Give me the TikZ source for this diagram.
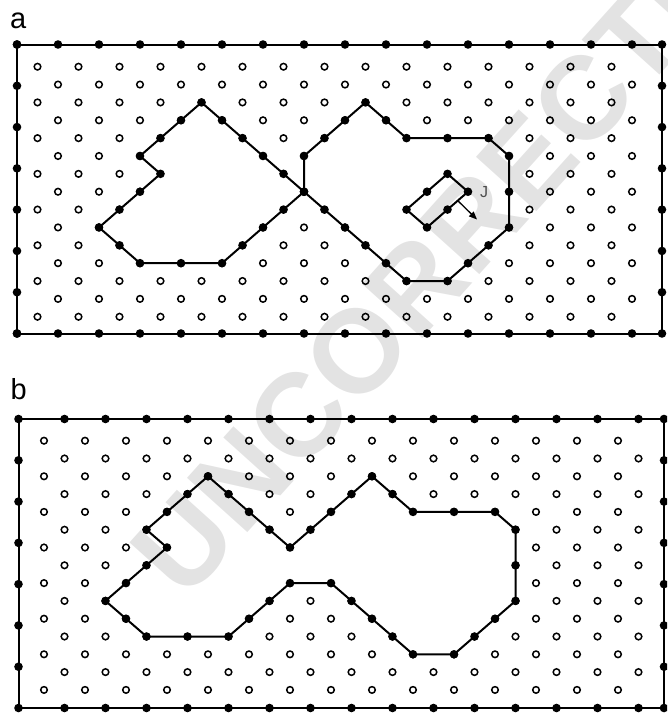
\documentclass[tikz,border=0pt]{standalone}
\usepackage{fontspec}
\setmainfont{Liberation Sans}
\usetikzlibrary{arrows.meta,calc}
\begin{document}
\begin{tikzpicture}[x=1pt,y=-1pt,
  edge/.style={line width=2pt, line join=round},
  vdot/.style={fill=black},
  site/.style={draw=black, line width=1.5pt},
  lbl/.style={inner sep=0pt, anchor=base west, font=\fontsize{29}{29}\selectfont},
  wmark/.style={inner sep=0pt, text=black!11, font=\fontsize{118}{118}\selectfont\bfseries},
]
\useasboundingbox (0,0) rectangle (667,715);
\clip (0,0) rectangle (667,715);

% watermark
\node[wmark, rotate=48] (wm) at (462,234) {UNCORRECTED};

% ---------------- panel a ----------------
\foreach \m/\j [count=\i] in {9/2,8/3,7/4,6/5,7/6,6/7,5/8,4/9,5/10,6/11,8/11,10/11,11/10,12/9,13/8,14/7,13/6,12/5,11/4,10/3}
  \coordinate (aL\i) at ({17+20.5*\m},{66.7+17.86*\j});
\foreach \m/\j [count=\i] in {14/7,14/5,15/4,16/3,17/2,18/3,19/4,21/4,23/4,24/5,24/7,24/9,23/10,22/11,21/12,19/12,18/11,17/10,16/9,15/8}
  \coordinate (aR\i) at ({17+20.5*\m},{66.7+17.86*\j});
\foreach \m/\j [count=\i] in {21/6,22/7,21/8,20/9,19/8,20/7}
  \coordinate (aJ\i) at ({17+20.5*\m},{66.7+17.86*\j});

\begin{scope}[even odd rule]
  \clip (-10,-10) rectangle (680,730)
    (aL1) \foreach \i in {2,...,20}{ -- (aL\i)} -- cycle
    (aR1) \foreach \i in {2,...,20}{ -- (aR\i)} -- cycle;
  \foreach \j in {0,2,...,14} \foreach \m in {1,3,...,29}
    \draw[site] ({17+20.5*\m},{66.7+17.86*\j}) circle (3.3pt);
  \foreach \j in {1,3,...,13} \foreach \m in {2,4,...,30}
    \draw[site] ({17+20.5*\m},{66.7+17.86*\j}) circle (3.3pt);
\end{scope}

\coordinate (aNW) at (17,44.5);
\coordinate (aSE) at (662,333.5);
\draw[edge] (aNW) rectangle (aSE);
\foreach \k in {0,...,15} {
  \fill[vdot] ({17+41*\k},44.5) circle (4.3pt);
  \fill[vdot] ({17+41*\k},333.5) circle (4.3pt);
}
\foreach \k in {0,...,7} {
  \fill[vdot] (17,{44.5+41.286*\k}) circle (4.3pt);
  \fill[vdot] (662,{44.5+41.286*\k}) circle (4.3pt);
}

\draw[edge] (aL1) \foreach \i in {2,...,20}{ -- (aL\i)} -- cycle;
\draw[edge] (aR1) \foreach \i in {2,...,20}{ -- (aR\i)} -- cycle;
\draw[edge] (aJ1) \foreach \i in {2,...,6}{ -- (aJ\i)} -- cycle;
\foreach \i in {1,...,20} { \fill[vdot] (aL\i) circle (4.3pt); \fill[vdot] (aR\i) circle (4.3pt); }
\foreach \i in {1,...,6} \fill[vdot] (aJ\i) circle (4.3pt);

\coordinate (Jmid) at ($(aJ2)!0.5!(aJ3)$);
\coordinate (Jtip) at (477,219.5);
\draw[line width=1.3pt, -{Triangle[length=8pt,width=6.5pt]}] (Jmid) -- (Jtip);
\node[inner sep=0pt, text=black!70, font=\fontsize{16}{16}\selectfont] (Jlab) at (484,192) {J};

\node[lbl] (la) at (10,28) {a};

% ---------------- panel b ----------------
\foreach \m/\j [count=\i] in {9/2,8/3,7/4,6/5,7/6,6/7,5/8,4/9,5/10,6/11,8/11,10/11,11/10,12/9,13/8,15/8,16/9,17/10,18/11,19/12,21/12,22/11,23/10,24/9,24/7,24/5,23/4,21/4,19/4,18/3,17/2,16/3,15/4,14/5,13/6,12/5,11/4,10/3}
  \coordinate (bP\i) at ({23.5+20.5*\m},{440.7+17.8*\j});

\begin{scope}[even odd rule]
  \clip (-10,-10) rectangle (680,730)
    (bP1) \foreach \i in {2,...,38}{ -- (bP\i)} -- cycle;
  \foreach \j in {0,2,...,14} \foreach \m in {1,3,...,29}
    \draw[site] ({23.5+20.5*\m},{440.7+17.8*\j}) circle (3.3pt);
  \foreach \j in {1,3,...,13} \foreach \m in {2,4,...,30}
    \draw[site] ({23.5+20.5*\m},{440.7+17.8*\j}) circle (3.3pt);
\end{scope}

\coordinate (bNW) at (18.5,419);
\coordinate (bSE) at (664,708);
\draw[edge] (bNW) rectangle (bSE);
\foreach \k in {1,...,15} {
  \fill[vdot] ({23.5+41*\k},419) circle (4.3pt);
  \fill[vdot] ({23.5+41*\k},708) circle (4.3pt);
}
\foreach \k in {0,...,7} {
  \fill[vdot] (18.5,{419+41.286*\k}) circle (4.3pt);
  \fill[vdot] (664,{419+41.286*\k}) circle (4.3pt);
}

\draw[edge] (bP1) \foreach \i in {2,...,38}{ -- (bP\i)} -- cycle;
\foreach \i in {1,...,38} \fill[vdot] (bP\i) circle (4.3pt);

\node[lbl] (lb) at (10.5,399) {b};
\end{tikzpicture}
\end{document}
